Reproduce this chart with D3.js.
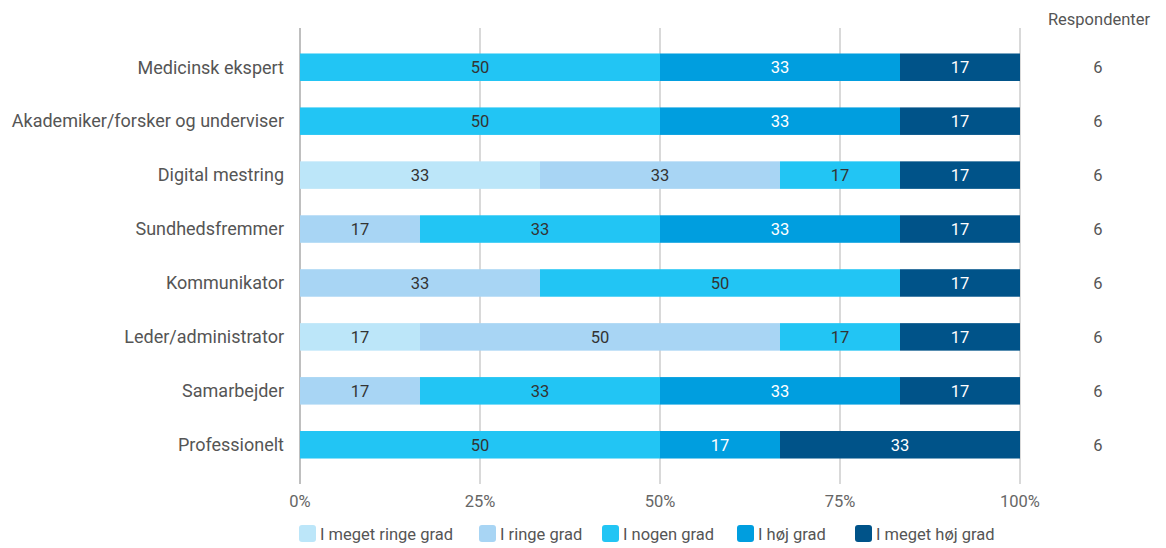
<!DOCTYPE html>
<html lang="da">
<head>
<meta charset="utf-8">
<script src="https://d3js.org/d3.v7.min.js"></script>
<style>
  body { margin: 0; background: #fff; font-family: Roboto, "Noto Sans", sans-serif; }
</style>
</head>
<body>
<div id="chart"></div>
<script>
// categories and answers (counts of 6 respondents)
var categories = ["Medicinsk ekspert", "Akademiker/forsker og underviser", "Digital mestring",
  "Sundhedsfremmer", "Kommunikator", "Leder/administrator", "Samarbejder", "Professionelt"];
var seriesNames = ["I meget ringe grad", "I ringe grad", "I nogen grad", "I høj grad", "I meget høj grad"];
var counts = [
  [0, 0, 3, 2, 1],
  [0, 0, 3, 2, 1],
  [2, 2, 1, 0, 1],
  [0, 1, 2, 2, 1],
  [0, 2, 3, 0, 1],
  [1, 3, 1, 0, 1],
  [0, 1, 2, 2, 1],
  [0, 0, 3, 1, 2]
];
var respondents = [6, 6, 6, 6, 6, 6, 6, 6];
var xTicks = [0, 25, 50, 75, 100];
var colors = ["#bce6f9", "#a8d5f4", "#22c5f4", "#009edf", "#005389"];
var textColors = ["#333", "#333", "#333", "#fff", "#fff"];

var width = 1166, height = 548;
var svg = d3.select("#chart").append("svg")
  .attr("width", width).attr("height", height);

var x = d3.scaleLinear().domain([0, 100]).range([300, 1020]);
var y = d3.scaleBand().domain(categories).range([40, 472]).paddingInner(0.49).paddingOuter(0.25);

// grid
svg.append("g").selectAll("line")
  .data(xTicks)
  .join("line")
    .attr("x1", function(d) { return x(d); })
    .attr("x2", function(d) { return x(d); })
    .attr("y1", 28).attr("y2", 484)
    .attr("stroke", function(d) { return d === 0 ? "#aaa" : "#ccc"; })
    .attr("stroke-width", 1.5);

categories.forEach(function(cat, i) {
  var total = d3.sum(counts[i]);
  var acc = 0;
  var segs = counts[i].map(function(c, k) {
    var s = {k: k, x0: acc / total * 100, x1: (acc + c) / total * 100, c: c};
    acc += c;
    return s;
  }).filter(function(s) { return s.c > 0; });

  var g = svg.append("g");
  g.selectAll("rect")
    .data(segs)
    .join("rect")
      .attr("x", function(d) { return x(d.x0); })
      .attr("y", y(cat))
      .attr("width", function(d) { return x(d.x1) - x(d.x0); })
      .attr("height", y.bandwidth())
      .attr("fill", function(d) { return colors[d.k]; });

  g.selectAll("text")
    .data(segs)
    .join("text")
      .attr("x", function(d) { return (x(d.x0) + x(d.x1)) / 2; })
      .attr("y", y(cat) + y.bandwidth() / 2)
      .attr("dy", "0.35em")
      .attr("text-anchor", "middle")
      .style("font-size", "16.5px")
      .attr("fill", function(d) { return textColors[d.k]; })
      .text(function(d) { return Math.round(d.c / total * 100); });

  // category label
  svg.append("text")
    .attr("x", 284)
    .attr("y", y(cat) + y.bandwidth() / 2)
    .attr("dy", "0.35em")
    .attr("text-anchor", "end")
    .style("font-size", "18px")
    .attr("fill", "#555")
    .text(cat);

  // respondents
  svg.append("text")
    .attr("x", 1098)
    .attr("y", y(cat) + y.bandwidth() / 2)
    .attr("dy", "0.35em")
    .attr("text-anchor", "middle")
    .style("font-size", "16.5px")
    .attr("fill", "#555")
    .text(respondents[i]);
});

svg.append("text")
  .attr("x", 1099).attr("y", 19)
  .attr("dy", "0.35em")
  .attr("text-anchor", "middle")
  .style("font-size", "16.5px")
  .attr("fill", "#555")
  .text("Respondenter");

// x axis labels
svg.append("g").selectAll("text")
  .data(xTicks)
  .join("text")
    .attr("x", function(d) { return x(d); })
    .attr("y", 501)
    .attr("dy", "0.35em")
    .attr("text-anchor", "middle")
    .style("font-size", "16.5px")
    .attr("fill", "#666")
    .text(function(d) { return d + "%"; });

// legend
var legendX = [299, 479, 602, 737, 855];
var legend = svg.append("g").selectAll("g")
  .data(seriesNames)
  .join("g")
    .attr("transform", function(d, i) { return "translate(" + legendX[i] + ",534)"; });
legend.append("rect")
  .attr("x", 0).attr("y", -9)
  .attr("width", 17).attr("height", 17)
  .attr("rx", 3)
  .attr("fill", function(d, i) { return colors[i]; });
legend.append("text")
  .attr("x", 21).attr("y", 0)
  .attr("dy", "0.35em")
  .style("font-size", "16.5px")
  .attr("fill", "#555")
  .text(function(d) { return d; });
</script>
</body>
</html>
